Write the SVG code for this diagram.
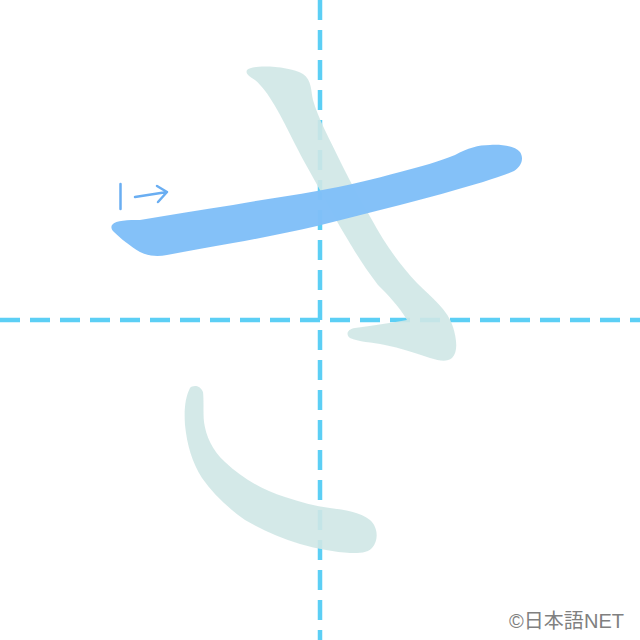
<svg xmlns="http://www.w3.org/2000/svg" width="640" height="640" viewBox="0 0 640 640">
<style>
.guide{stroke:#5ccff5;stroke-width:4.5;stroke-dasharray:20 10;fill:none}
.ghost{fill:#cfe7e5;fill-opacity:0.9}
.cur{fill:#80bff8;fill-opacity:0.97}
.mark{stroke:#6aaef2;stroke-width:2.5;fill:none;stroke-linecap:round;stroke-linejoin:round}
.copy{font-family:"Liberation Sans","Noto Sans CJK JP",sans-serif;font-size:20px;fill:#808080}
</style>
<rect width="640" height="640" fill="#ffffff"/>
<g id="guides">
<line class="guide" x1="320" y1="0" x2="320" y2="640"/>
<line class="guide" x1="0" y1="320" x2="640" y2="320"/>
</g>
<g id="stroke2">
<path class="ghost" d="M247,70 C252,64 290,66 303,74 C312,80 311,92 313,100 C318,118 330,140 342,165 C352,185 362,203 372,220 C385,244 400,265 417,283 C432,298 448,310 453,327 C457,340 458,352 452,358 C447,362 440,361 430,358 C415,353 400,348 385,345 C372,342 358,342 350,338 C345,334 348,329 355,328 C375,325 392,323 407,320 C398,305 388,295 378,285 C365,268 355,252 348,240 C337,222 328,205 320,190 C310,172 302,158 296,146 C288,130 282,118 275,106 C268,94 262,86 255,80 C250,77 245,74 247,70 Z"/>
</g>
<g id="stroke3">
<path class="ghost" d="M190,388 C193,385 200,385 203,392 C204,400 203,412 204,422 C206,436 212,450 225,462 C242,478 262,490 285,497 C300,502 315,506 330,508 C345,510 360,512 370,520 C378,527 379,540 372,548 C367,553 360,553 350,553 C335,552 318,549 300,544 C280,538 262,530 245,520 C228,508 213,494 202,478 C192,462 187,445 185,425 C184,410 185,398 190,388 Z"/>
</g>
<g id="stroke1">
<path class="cur" d="M112,225 C116,220 128,220 140,220 C170,215 200,210 233,205 C260,200 290,196 317,191 C345,186 375,179 400,172 C420,167 440,161 455,155 C468,148 478,145 490,145 C500,144 515,146 520,152 C524,158 522,166 514,171 C505,175 495,178 483,182 C455,190 428,198 400,205 C372,212 345,219 317,226 C290,232 262,238 233,243 C210,247 188,251 167,255 C157,257 148,256 140,252 C130,246 120,238 114,232 C111,229 111,227 112,225 Z"/>
</g>
<g id="marker">
<line class="mark" x1="120.5" y1="184" x2="120.5" y2="209"/>
<path class="mark" d="M135,197 L167,192 M157,186 L167,192 L158,202"/>
</g>
<text class="copy" x="624" y="628" text-anchor="end" textLength="115" lengthAdjust="spacing">©日本語NET</text>
</svg>
